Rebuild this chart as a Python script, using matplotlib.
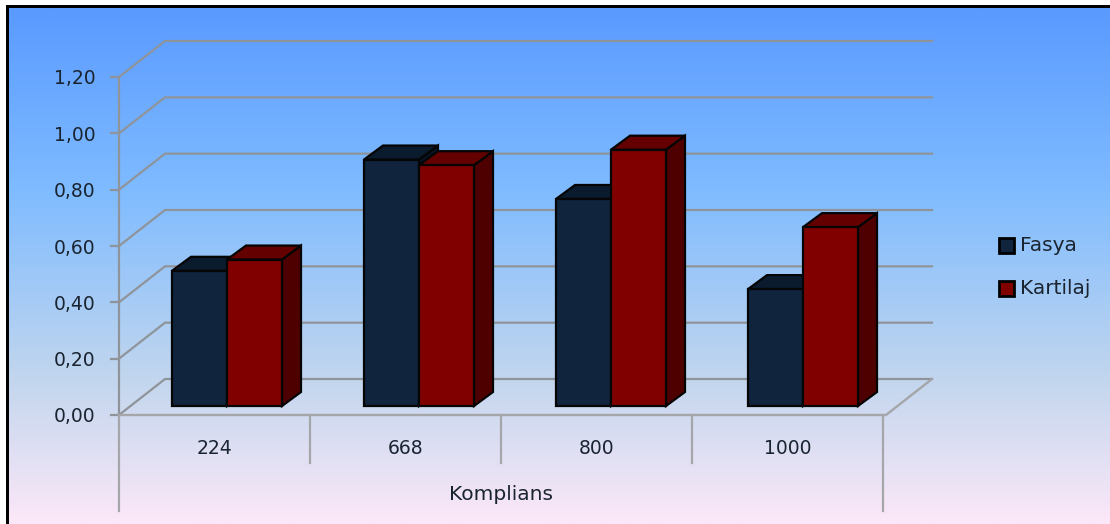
import numpy as np
from matplotlib import pyplot as plt
from matplotlib.colors import LinearSegmentedColormap
from matplotlib.patches import Polygon, Rectangle

categories = ['224', '668', '800', '1000']
fasya = [0.48, 0.875, 0.735, 0.415]
kartilaj = [0.52, 0.855, 0.91, 0.635]
y_ticks = [0.0, 0.2, 0.4, 0.6, 0.8, 1.0, 1.2]
y_labels = ['0,00', '0,20', '0,40', '0,60', '0,80', '1,00', '1,20']

W, H = 1110, 524
TEXT = '#1a2430'
GRID = '#8f949a'
EDGE = '#050505'
NAVY = ('#10243d', '#0b1b2e', '#081423')
RED = ('#800000', '#640000', '#4e0000')

# plot box in pixels from the top left, and the depth shift of the back wall
X0, X1, Y0, Y1 = 119, 883, 415, 77
WALL_DX, WALL_DY = 46, 36
BAR_W = 55
BAR_DX, BAR_DY = 19, 14
BAR_SHIFT_X, BAR_SHIFT_Y = 9, 9

fig = plt.figure(figsize=(W / 100, H / 100), dpi=100)
fig.patch.set_facecolor('white')

# background with the frame
bg = fig.add_axes([0, 0, 1, 1], zorder=0)
bg.axis('off')
cmap = LinearSegmentedColormap.from_list(
    'back', [(0, '#5a9aff'), (0.36, '#80bcff'), (0.72, '#c2d6ee'), (1, '#fce8f8')])
bg.imshow(np.linspace(0, 1, 256).reshape(-1, 1), cmap=cmap, aspect='auto',
          extent=(9, W, H, 8), zorder=0)
bg.set_xlim(0, W)
bg.set_ylim(H, 0)
bg.add_patch(Rectangle((6, 5), W, 3, fc='black', ec='none', zorder=1))
bg.add_patch(Rectangle((6, 5), 3, H, fc='black', ec='none', zorder=1))

ax = fig.add_axes([X0 / W, 1 - Y0 / H, (X1 - X0) / W, (Y0 - Y1) / H], zorder=1)
ax.patch.set_alpha(0)
ax.set_xlim(0, len(categories))
ax.set_ylim(0, 1.2)
for s in ax.spines.values():
    s.set_visible(False)

# one pixel in data units, used for the oblique shift
px = len(categories) / (X1 - X0)
py = 1.2 / (Y0 - Y1)


def shifted(x, y, dx, dy):
    return (x + dx * px, y + dy * py)


# walls and floor lines
for t in y_ticks:
    a = shifted(0, t, WALL_DX, WALL_DY)
    b = shifted(len(categories), t, WALL_DX + 3, WALL_DY)
    ax.plot([0, a[0], b[0]], [t, a[1], b[1]], color=GRID, lw=1.6,
            clip_on=False, zorder=1, solid_joinstyle='miter')
    ax.plot([-8 * px, 0], [t, t], color=GRID, lw=1.6, clip_on=False, zorder=1)

# floor front corner up to the right
c = shifted(len(categories), 0, 3, 0)
d = shifted(len(categories), 0, WALL_DX + 3, WALL_DY)
ax.plot([0, c[0], d[0]], [0, c[1], d[1]], color='#a4a6aa', lw=1.7, clip_on=False, zorder=1)
ax.plot([0, 0], [0, 1.2], color=GRID, lw=1.6, zorder=1, clip_on=False)

# category separators below the floor
ax.plot([0, 0], [0, -96 * py], color='#a4a6aa', lw=1.6, clip_on=False, zorder=1)
ax.plot([4, 4], [0, -96 * py], color='#a4a6aa', lw=1.6, clip_on=False, zorder=1)
for i in (1, 2, 3):
    ax.plot([i, i], [0, -48 * py], color='#a4a6aa', lw=1.6, clip_on=False, zorder=1)


def bar3d(left, value, cols, z):
    # the box stands in from the front plane, so its top moves with the base
    x0, y0 = shifted(left, 0, BAR_SHIFT_X, BAR_SHIFT_Y)
    y1 = value + BAR_SHIFT_Y * py
    w = BAR_W * px
    front = [(x0, y0), (x0 + w, y0), (x0 + w, y1), (x0, y1)]
    top = [(x0, y1), (x0 + w, y1),
           shifted(x0 + w, y1, BAR_DX, BAR_DY), shifted(x0, y1, BAR_DX, BAR_DY)]
    side = [(x0 + w, y0), shifted(x0 + w, y0, BAR_DX, BAR_DY),
            shifted(x0 + w, y1, BAR_DX, BAR_DY), (x0 + w, y1)]
    for pts, col in zip((side, top, front), (cols[2], cols[1], cols[0])):
        ax.add_patch(Polygon(pts, closed=True, fc=col, ec=EDGE, lw=1.6,
                             joinstyle='miter', clip_on=False, zorder=z))


for i in range(len(categories)):
    left = i + (44 + i) * px
    bar3d(left, fasya[i], NAVY, 3 + i)
    bar3d(left + BAR_W * px, kartilaj[i], RED, 3.5 + i)

ax.set_yticks(y_ticks)
ax.set_yticklabels(y_labels, fontsize=13.5, color=TEXT)
ax.set_xticks(np.arange(len(categories)) + 0.5)
ax.set_xticklabels(categories, fontsize=13.5, color=TEXT)
ax.tick_params(axis='both', length=0)
ax.tick_params(axis='y', pad=17)
ax.tick_params(axis='x', pad=17)
ax.set_xlabel('Komplians', fontsize=14.5, color=TEXT, labelpad=20)

# legend
for y, name, col in ((245, 'Fasya', '#10243d'), (288.5, 'Kartilaj', '#800000')):
    bg.add_patch(Rectangle((998.5, y - 7.5), 15, 15, fc=col, ec='black', lw=2, zorder=3))
    bg.text(1020, y + 0.5, name, fontsize=14.5, color=TEXT, va='center', ha='left', zorder=3)

fig.savefig('out.png', dpi=100)
